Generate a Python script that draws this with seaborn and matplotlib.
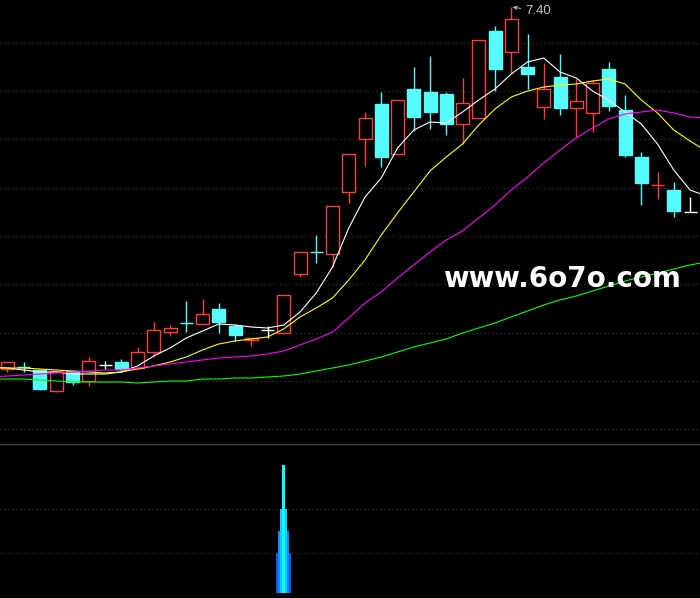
import numpy as np
import pandas as pd
import matplotlib
matplotlib.use("Agg")
import matplotlib.pyplot as plt
import seaborn as sns

# ===============================
# Data
# ===============================
# daily bars, left to right
opens = [3.78, 3.80, 3.77, 3.56, 3.76, 3.66, 3.82, 3.85, 3.79, 3.95,
         4.15, 4.24, 4.23, 4.38, 4.21, 4.07, 4.17, 4.14, 4.73, 4.95,
         4.93, 5.55, 6.08, 6.43, 5.93, 6.58, 6.55, 6.53, 6.23, 6.29,
         7.16, 6.95, 6.80, 6.40, 6.70, 6.39, 6.34, 6.78, 6.37, 5.90,
         5.62, 5.57, 5.35]
highs = [3.85, 3.85, 3.77, 3.76, 3.76, 3.90, 3.86, 3.88, 4.00, 4.25,
         4.22, 4.46, 4.48, 4.44, 4.23, 4.09, 4.21, 4.52, 4.95, 5.12,
         5.41, 5.93, 6.35, 6.55, 6.47, 6.80, 6.91, 6.55, 6.69, 7.07,
         7.21, 7.40, 7.13, 6.84, 6.93, 6.68, 6.67, 6.85, 6.52, 5.95,
         5.75, 5.65, 5.50]
lows = [3.75, 3.75, 3.57, 3.55, 3.62, 3.61, 3.78, 3.75, 3.79, 3.90,
        4.11, 4.15, 4.23, 4.14, 4.06, 4.01, 4.09, 4.14, 4.70, 4.84,
        4.80, 5.44, 5.81, 5.80, 5.93, 6.16, 6.18, 6.12, 6.03, 6.29,
        6.56, 6.73, 6.58, 6.28, 6.32, 6.10, 6.15, 6.36, 5.90, 5.42,
        5.48, 5.30, 5.35]
closes = [3.85, 3.80, 3.58, 3.76, 3.65, 3.86, 3.82, 3.78, 3.95, 4.17,
          4.19, 4.24, 4.33, 4.25, 4.12, 4.09, 4.17, 4.52, 4.95, 4.95,
          5.41, 5.93, 6.29, 5.90, 6.47, 6.30, 6.35, 6.23, 6.44, 7.07,
          6.78, 7.28, 6.73, 6.58, 6.39, 6.46, 6.64, 6.41, 5.92, 5.64,
          5.62, 5.36, 5.35]
# colour of the doji crosses (open == close)
doji_tone = {1: "down", 6: "flat", 11: "down", 16: "flat", 19: "down", 40: "up", 42: "flat"}

# moving averages, one extra point on each side so the lines run to the edges
ma_days = list(range(-1, 44))
ma5 = [3.80, 3.79, 3.77, 3.75, 3.75, 3.73, 3.73, 3.73, 3.75, 3.81,
       3.91, 3.99, 4.09, 4.16, 4.23, 4.22, 4.20, 4.19, 4.22, 4.35,
       4.54, 4.80, 5.19, 5.50, 5.69, 5.99, 6.17, 6.25, 6.24, 6.35,
       6.47, 6.58, 6.73, 6.85, 6.89, 6.75, 6.69, 6.56, 6.47, 6.35,
       6.23, 6.03, 5.77, 5.57, 5.51]
ma10 = [3.79, 3.79, 3.79, 3.78, 3.77, 3.76, 3.75, 3.74, 3.75, 3.78,
        3.81, 3.85, 3.90, 3.97, 4.03, 4.06, 4.08, 4.10, 4.18, 4.30,
        4.39, 4.49, 4.67, 4.87, 5.12, 5.34, 5.55, 5.76, 5.90, 6.03,
        6.22, 6.38, 6.50, 6.56, 6.60, 6.62, 6.63, 6.66, 6.68, 6.63,
        6.47, 6.34, 6.17, 6.06, 5.96]
ma20 = [3.70, 3.71, 3.72, 3.73, 3.74, 3.75, 3.76, 3.77, 3.77, 3.79,
        3.81, 3.83, 3.85, 3.87, 3.89, 3.90, 3.91, 3.93, 3.96, 4.02,
        4.08, 4.15, 4.29, 4.44, 4.55, 4.69, 4.82, 4.95, 5.07, 5.16,
        5.29, 5.42, 5.57, 5.70, 5.84, 5.97, 6.09, 6.19, 6.28, 6.33,
        6.35, 6.37, 6.34, 6.30, 6.29]
ma60 = [3.68, 3.68, 3.68, 3.67, 3.66, 3.65, 3.65, 3.65, 3.65, 3.64,
        3.65, 3.66, 3.66, 3.68, 3.68, 3.69, 3.69, 3.70, 3.71, 3.73,
        3.76, 3.79, 3.82, 3.86, 3.90, 3.95, 4.00, 4.04, 4.08, 4.14,
        4.19, 4.24, 4.30, 4.36, 4.42, 4.47, 4.51, 4.56, 4.61, 4.66,
        4.70, 4.74, 4.78, 4.82, 4.85]

# signal bars in the lower pane
sig_day = 17
sig_levels = [1.0, 1.5, 2.0, 3.0]

# ===============================
# Style
# ===============================
RED, CYAN, WHITE = "#ff3c3c", "#54fcfc", "#ffffff"
tone_colour = {"up": RED, "down": CYAN, "flat": WHITE}
ma_palette = {"MA5": "#ffffff", "MA10": "#ffff00", "MA20": "#ff00ff", "MA60": "#00ff00"}
sig_colours = ["#0a5aff", "#0a8cff", "#1ec3ff", "#00ffff"]
sig_widths = [0.92, 0.68, 0.43, 0.18]
grid_kw = dict(color="#4a4a4a", linestyle=(0, (1, 3)), linewidth=0.72)

sns.set_theme(style="dark", rc={"axes.facecolor": "black", "figure.facecolor": "black"})

fig = plt.figure(figsize=(7, 5.98), dpi=100)
ax = fig.add_axes([0, 154 / 598, 1, 444 / 598])
ax2 = fig.add_axes([0, 5 / 598, 1, 149 / 598])

x = np.arange(len(opens))
o, h, l, c = (np.array(v) for v in (opens, highs, lows, closes))
up, down, flat = c > o, c < o, c == o

tone = np.where(up, RED, CYAN).astype(object)
for i, t in doji_tone.items():
    tone[i] = tone_colour[t]

# candles
ax.vlines(x, l, h, colors=list(tone), linewidth=1.0, zorder=2)
ax.bar(x[up], (c - o)[up], bottom=o[up], width=0.8, facecolor="black",
       edgecolor=RED, linewidth=1.0, zorder=3)
ax.bar(x[down], (o - c)[down], bottom=c[down], width=0.8, facecolor=CYAN,
       edgecolor=CYAN, linewidth=1.0, zorder=3)
ax.hlines(c[flat], x[flat] - 0.4, x[flat] + 0.4, colors=list(tone[flat]),
          linewidth=1.0, zorder=3)

# moving averages
ma = pd.DataFrame({"day": ma_days, "MA5": ma5, "MA10": ma10, "MA20": ma20, "MA60": ma60})
ma = ma.melt("day", var_name="line", value_name="price")
sns.lineplot(data=ma, x="day", y="price", hue="line", palette=ma_palette,
             linewidth=0.8, legend=False, ax=ax, zorder=4)

# high marker
k = int(np.argmax(h))
ax.annotate(f"{h[k]:.2f}", xy=(k, h[k]), xytext=(14, -4), textcoords="offset pixels",
            color="#c0c8d0", fontsize=9.5, family="Liberation Sans", va="center", ha="left",
            arrowprops=dict(arrowstyle="->", color="#c0c8d0", lw=0.7,
                            shrinkA=1, shrinkB=1, mutation_scale=6), zorder=5)

ax.set_xlim(-0.4615, 42.615)
ax.set_ylim(3.03, 7.47)
ax.set_yticks(np.linspace(7.04, 3.18, 9))
ax.grid(False)
ax.yaxis.grid(True, **grid_kw)
ax.set_axisbelow(True)
ax.tick_params(left=False, labelleft=False, bottom=False, labelbottom=False)
ax.set_xlabel("")
ax.set_ylabel("")
for s in ax.spines.values():
    s.set_visible(False)

# lower pane
for lvl, wd, col in zip(sig_levels, sig_widths, sig_colours):
    ax2.bar(sig_day, lvl, width=wd, color=col, linewidth=0)
ax2.set_xlim(-0.4615, 42.615)
ax2.set_ylim(0.1, 3.48)
ax2.set_yticks([1, 2])
ax2.grid(False)
ax2.yaxis.grid(True, **grid_kw)
ax2.set_axisbelow(True)
ax2.tick_params(left=False, labelleft=False, bottom=False, labelbottom=False)
for name, s in ax2.spines.items():
    s.set_visible(name == "top")
ax2.spines["top"].set_color("#444444")
ax2.spines["top"].set_linewidth(1.0)

# watermark
fig.text(443 / 700, (598 - 287) / 598, "www.6o7o.com", color="white",
         fontsize=20, fontweight="bold", family="DejaVu Sans",
         ha="left", va="baseline", zorder=10)

fig.savefig("out.png", dpi=100, facecolor="black")
